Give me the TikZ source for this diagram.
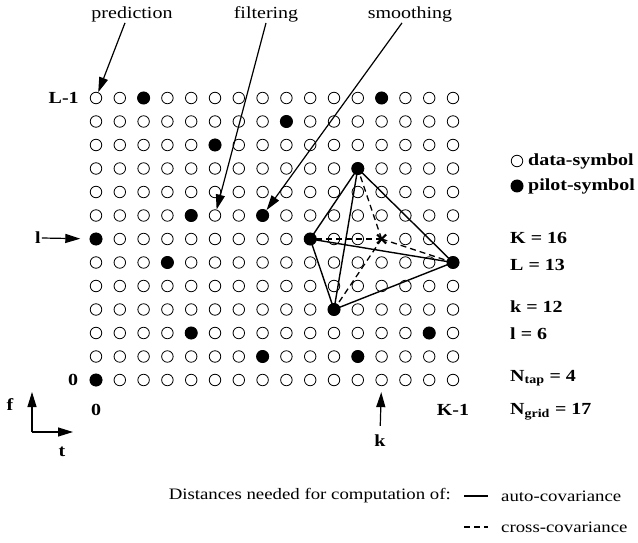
\documentclass[tikz,border=0pt]{standalone}
\usepackage{fontspec}
\setmainfont{Liberation Serif}[FakeStretch=1.18]
\usetikzlibrary{arrows.meta,positioning}
\tikzset{
  datasym/.style={circle,draw,line width=0.8bp,minimum size=11.5bp,inner sep=0pt},
  pilotsym/.style={circle,fill=black,minimum size=13bp,inner sep=0pt},
  lbl/.style={font=\fontsize{17}{20}\selectfont\bfseries,inner sep=1bp},
  toplbl/.style={font=\fontsize{17}{20}\selectfont,inner sep=1bp},
  plain/.style={font=\fontsize{16}{19}\selectfont,inner sep=1bp},
  arrow/.style={-{Triangle[length=15bp,width=9bp]},line width=1.2bp},
  auto/.style={line width=1.4bp},
  cross/.style={line width=1.3bp,dash pattern=on 6bp off 4bp}
}
\begin{document}
\begin{tikzpicture}[x=1bp,y=-1bp]
  \useasboundingbox[fill=white] (0,0) rectangle (638,543);
  % time-frequency grid
  \foreach \k in {0,...,15}
    \foreach \l in {0,...,12}{
      \ifnum\k=12 \ifnum\l=6 \else
        \node[datasym] (s-\k-\l) at (96+23.8*\k,380-23.5*\l) {};
      \fi \else
        \node[datasym] (s-\k-\l) at (96+23.8*\k,380-23.5*\l) {};
      \fi
    }
  % pilot positions
  \foreach \k/\l in {0/0,7/1,11/1,4/2,14/2,10/3,3/5,15/5,0/6,9/6,4/7,7/7,11/9,5/10,8/11,2/12,12/12}
    \node[pilotsym] (s-\k-\l) at (96+23.8*\k,380-23.5*\l) {};
  \coordinate (est) at (96+23.8*12,380-23.5*6);

  % distances
  \draw[auto] (s-11-9.center) -- (s-9-6.center) -- (s-10-3.center) -- (s-15-5.center) -- (s-11-9.center) -- (s-10-3.center);
  \draw[auto] (s-9-6.center) -- (s-15-5.center);
  \draw[cross] (est) -- (s-11-9.center);
  \draw[cross] (est) -- (s-9-6.center);
  \draw[cross] (est) -- (s-10-3.center);
  \draw[cross] (est) -- (s-15-5.center);
  \draw[line width=2bp] ([shift={(-4.5bp,-4.5bp)}]est) -- ([shift={(4.5bp,4.5bp)}]est)
    ([shift={(-4.5bp,4.5bp)}]est) -- ([shift={(4.5bp,-4.5bp)}]est);

  % estimation types
  \node[toplbl] (pred) at (132,14) {prediction};
  \node[toplbl] (filt) at (266,14) {filtering};
  \node[toplbl] (smooth) at (410,14) {smoothing};
  \draw[arrow] ([xshift=-7bp]pred.south) -- (s-0-12);
  \draw[arrow] (filt.south) -- (s-5-7);
  \draw[arrow] ([xshift=-8bp]smooth.south) -- (s-7-7);

  % axis labels
  \node[lbl,left=10bp of s-0-12] (lmax) {L-1};
  \node[lbl,left=10bp of s-0-0] (lzero) {0};
  \node[lbl] (lrow) at (38,238) {l};
  \draw[arrow,shorten >=9bp] (lrow.east) -- (s-0-6);
  \node[lbl] (kzero) at (96,410) {0};
  \node[lbl] (kmax) at (453,410) {K-1};
  \node[lbl] (kcol) at (380,441) {k};
  \draw[arrow,shorten <=8bp,shorten >=6bp] (kcol.north) -- (s-12-0);

  % f-t axes
  \coordinate (origin) at (32,432);
  \coordinate (fend) at (32,392);
  \coordinate (tend) at (73,432);
  \draw[arrow] (origin) -- (fend);
  \draw[arrow] (origin) -- (tend);
  \node[lbl] (flbl) at (10,405) {f};
  \node[lbl] (tlbl) at (62,452) {t};

  % legend
  \node[datasym] (legdata) at (517,161) {};
  \node[lbl,anchor=west] (legdatatxt) at (527,161) {data-symbol};
  \node[pilotsym] (legpilot) at (517,186) {};
  \node[lbl,anchor=west] (legpilottxt) at (527,186) {pilot-symbol};
  \node[lbl,anchor=west] (parK) at (509,238) {K = 16};
  \node[lbl,anchor=west] (parL) at (509,265) {L = 13};
  \node[lbl,anchor=west] (park) at (509,307) {k = 12};
  \node[lbl,anchor=west] (parl) at (509,334) {l = 6};
  \node[lbl,anchor=west] (partap) at (509,378) {N\textsubscript{tap} = 4};
  \node[lbl,anchor=west] (pargrid) at (509,412) {N\textsubscript{grid} = 17};

  % distance legend
  \node[plain,anchor=east] (dist) at (452,496) {Distances needed for computation of:};
  \coordinate (autoa) at (464,496);
  \coordinate (autob) at (488,496);
  \draw[auto] (autoa) -- (autob);
  \node[plain,anchor=west] (autotxt) at (500,496) {auto-covariance};
  \coordinate (crossa) at (464,527);
  \coordinate (crossb) at (488,527);
  \draw[cross] (crossa) -- (crossb);
  \node[plain,anchor=west] (crosstxt) at (500,527) {cross-covariance};
\end{tikzpicture}
\end{document}
